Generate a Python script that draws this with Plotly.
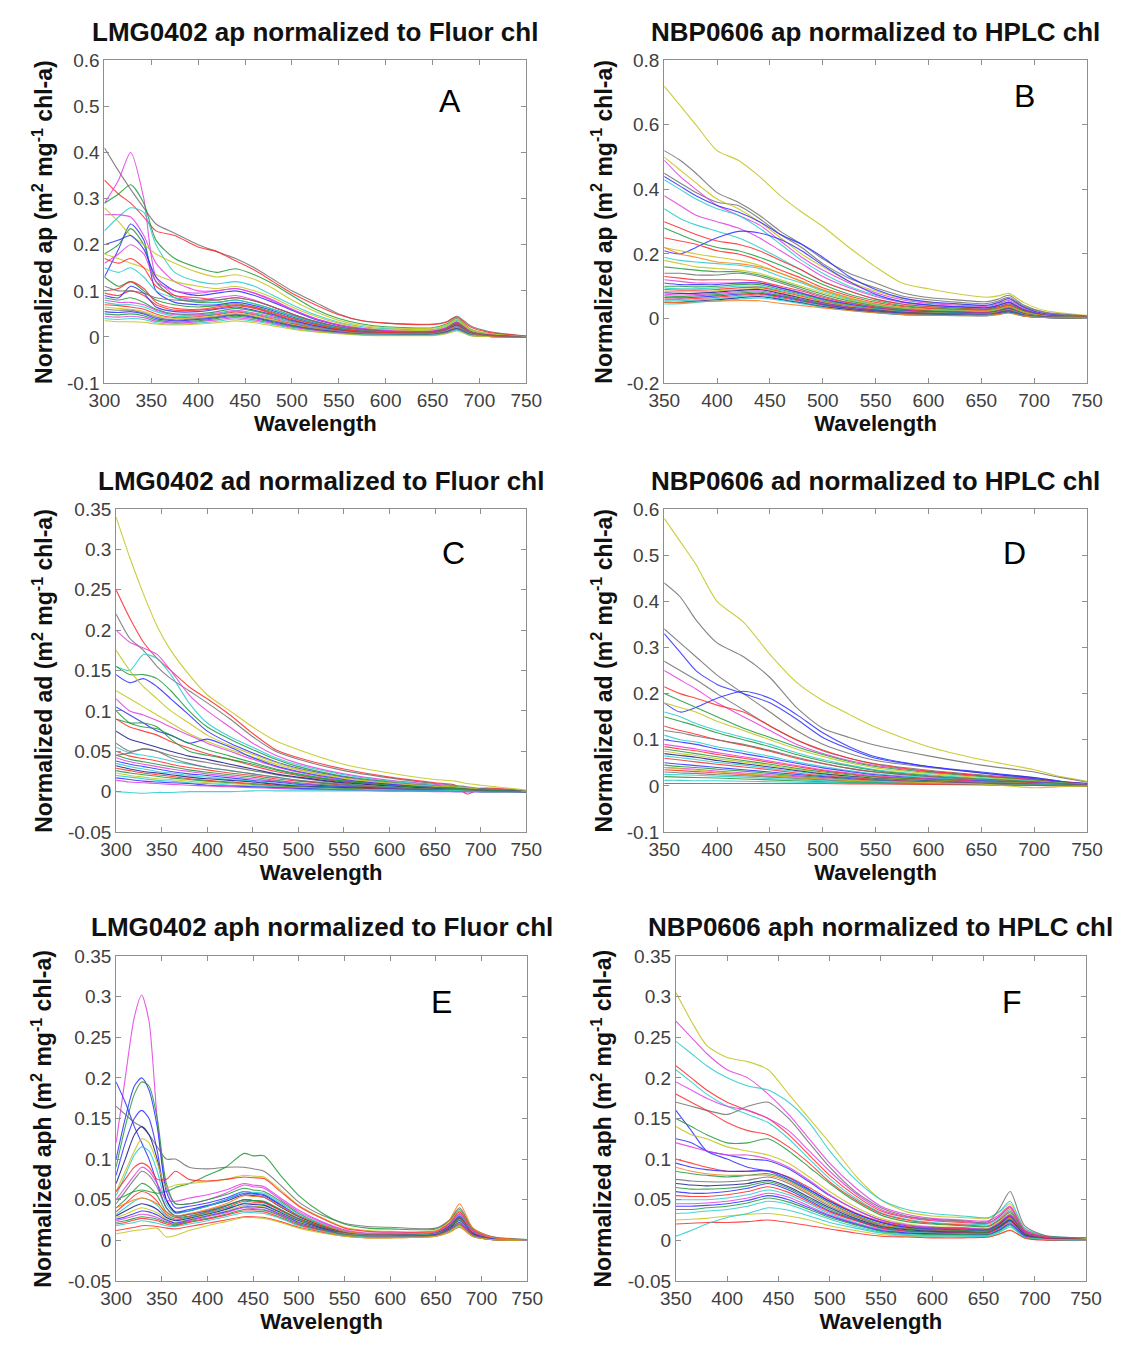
import plotly.graph_objects as go

# ---------------- data ----------------
W_A = [300, 315, 328, 342, 355, 375, 400, 420, 440, 460, 480, 500, 525, 550, 575, 600, 650, 665, 676, 690, 710, 750]
AP_LMG = [
    [0.41, 0.36, 0.32, 0.28, 0.245, 0.225, 0.20, 0.185, 0.17, 0.15, 0.125, 0.10, 0.075, 0.05, 0.035, 0.03, 0.028, 0.033, 0.045, 0.025, 0.012, 0.002],
    [0.34, 0.31, 0.29, 0.26, 0.23, 0.22, 0.195, 0.185, 0.165, 0.145, 0.12, 0.095, 0.07, 0.048, 0.035, 0.03, 0.027, 0.032, 0.043, 0.022, 0.01, 0.002],
    [0.29, 0.34, 0.40, 0.30, 0.13, 0.09, 0.08, 0.085, 0.09, 0.08, 0.065, 0.05, 0.032, 0.02, 0.014, 0.012, 0.012, 0.02, 0.033, 0.012, 0.004, 0.0],
    [0.29, 0.31, 0.33, 0.29, 0.21, 0.17, 0.15, 0.14, 0.148, 0.135, 0.115, 0.09, 0.06, 0.04, 0.028, 0.022, 0.02, 0.028, 0.04, 0.018, 0.007, 0.001],
    [0.23, 0.26, 0.28, 0.27, 0.20, 0.14, 0.12, 0.115, 0.12, 0.11, 0.09, 0.07, 0.048, 0.032, 0.022, 0.018, 0.016, 0.024, 0.036, 0.015, 0.006, 0.0],
    [0.265, 0.265, 0.26, 0.22, 0.16, 0.12, 0.10, 0.10, 0.105, 0.095, 0.08, 0.06, 0.04, 0.027, 0.018, 0.014, 0.013, 0.02, 0.032, 0.013, 0.005, 0.0],
    [0.13, 0.19, 0.245, 0.21, 0.10, 0.075, 0.07, 0.07, 0.075, 0.068, 0.057, 0.044, 0.03, 0.02, 0.013, 0.01, 0.01, 0.017, 0.028, 0.01, 0.003, 0.0],
    [0.18, 0.20, 0.235, 0.20, 0.12, 0.085, 0.075, 0.075, 0.08, 0.072, 0.06, 0.047, 0.032, 0.021, 0.014, 0.011, 0.011, 0.018, 0.03, 0.011, 0.004, 0.0],
    [0.28, 0.25, 0.22, 0.20, 0.18, 0.16, 0.14, 0.13, 0.135, 0.125, 0.105, 0.08, 0.055, 0.036, 0.025, 0.02, 0.019, 0.026, 0.038, 0.017, 0.007, 0.001],
    [0.18, 0.17, 0.16, 0.15, 0.135, 0.12, 0.11, 0.105, 0.11, 0.10, 0.085, 0.065, 0.045, 0.03, 0.02, 0.016, 0.015, 0.022, 0.034, 0.014, 0.005, 0.0],
    [0.20, 0.21, 0.22, 0.19, 0.13, 0.10, 0.09, 0.095, 0.10, 0.09, 0.075, 0.058, 0.038, 0.025, 0.017, 0.013, 0.012, 0.019, 0.031, 0.012, 0.004, 0.0],
    [0.16, 0.18, 0.20, 0.18, 0.12, 0.10, 0.095, 0.10, 0.105, 0.095, 0.078, 0.06, 0.04, 0.026, 0.018, 0.014, 0.013, 0.02, 0.032, 0.012, 0.004, 0.0],
    [0.17, 0.16, 0.17, 0.15, 0.11, 0.09, 0.085, 0.08, 0.085, 0.078, 0.065, 0.05, 0.034, 0.022, 0.015, 0.012, 0.011, 0.018, 0.03, 0.011, 0.004, 0.0],
    [0.15, 0.14, 0.15, 0.13, 0.10, 0.085, 0.078, 0.075, 0.08, 0.072, 0.06, 0.046, 0.031, 0.02, 0.014, 0.011, 0.01, 0.017, 0.028, 0.01, 0.003, 0.0],
    [0.13, 0.11, 0.12, 0.10, 0.08, 0.07, 0.065, 0.068, 0.072, 0.065, 0.054, 0.041, 0.028, 0.018, 0.012, 0.009, 0.009, 0.016, 0.027, 0.009, 0.003, 0.0],
    [0.095, 0.09, 0.10, 0.09, 0.07, 0.058, 0.058, 0.062, 0.068, 0.062, 0.05, 0.038, 0.025, 0.016, 0.011, 0.009, 0.009, 0.016, 0.026, 0.009, 0.003, 0.0],
    [0.09, 0.085, 0.11, 0.095, 0.065, 0.055, 0.055, 0.06, 0.065, 0.058, 0.048, 0.036, 0.024, 0.015, 0.01, 0.008, 0.008, 0.015, 0.025, 0.008, 0.003, 0.0],
    [0.085, 0.08, 0.085, 0.075, 0.06, 0.05, 0.05, 0.055, 0.062, 0.056, 0.046, 0.034, 0.022, 0.014, 0.01, 0.008, 0.008, 0.015, 0.024, 0.008, 0.002, 0.0],
    [0.08, 0.075, 0.075, 0.07, 0.058, 0.048, 0.048, 0.052, 0.058, 0.052, 0.043, 0.032, 0.021, 0.013, 0.009, 0.007, 0.007, 0.014, 0.023, 0.007, 0.002, 0.0],
    [0.075, 0.07, 0.07, 0.065, 0.055, 0.045, 0.046, 0.05, 0.056, 0.05, 0.041, 0.031, 0.02, 0.012, 0.008, 0.007, 0.007, 0.013, 0.022, 0.007, 0.002, 0.0],
    [0.07, 0.068, 0.065, 0.06, 0.05, 0.042, 0.044, 0.048, 0.054, 0.048, 0.039, 0.029, 0.019, 0.012, 0.008, 0.006, 0.006, 0.012, 0.021, 0.006, 0.002, 0.0],
    [0.065, 0.062, 0.06, 0.055, 0.046, 0.04, 0.042, 0.046, 0.051, 0.046, 0.037, 0.027, 0.018, 0.011, 0.007, 0.006, 0.006, 0.012, 0.02, 0.006, 0.002, 0.0],
    [0.06, 0.058, 0.058, 0.052, 0.043, 0.037, 0.04, 0.044, 0.049, 0.044, 0.035, 0.026, 0.017, 0.011, 0.007, 0.006, 0.006, 0.011, 0.019, 0.006, 0.002, 0.0],
    [0.055, 0.053, 0.055, 0.05, 0.04, 0.035, 0.038, 0.042, 0.047, 0.042, 0.033, 0.024, 0.016, 0.01, 0.006, 0.005, 0.005, 0.011, 0.018, 0.005, 0.001, 0.0],
    [0.05, 0.048, 0.05, 0.046, 0.037, 0.032, 0.035, 0.04, 0.045, 0.04, 0.031, 0.023, 0.015, 0.009, 0.006, 0.005, 0.005, 0.01, 0.017, 0.005, 0.001, 0.0],
    [0.045, 0.043, 0.045, 0.042, 0.034, 0.03, 0.033, 0.037, 0.042, 0.037, 0.029, 0.021, 0.014, 0.009, 0.005, 0.004, 0.004, 0.009, 0.016, 0.004, 0.001, 0.0],
    [0.04, 0.038, 0.04, 0.038, 0.031, 0.028, 0.03, 0.034, 0.039, 0.034, 0.027, 0.019, 0.012, 0.008, 0.005, 0.004, 0.004, 0.008, 0.015, 0.004, 0.001, 0.0],
    [0.035, 0.033, 0.033, 0.032, 0.028, 0.026, 0.028, 0.031, 0.035, 0.031, 0.024, 0.017, 0.011, 0.007, 0.004, 0.003, 0.003, 0.007, 0.013, 0.003, 0.001, 0.0],
    [0.10, 0.105, 0.12, 0.105, 0.075, 0.062, 0.06, 0.065, 0.07, 0.064, 0.052, 0.04, 0.027, 0.017, 0.012, 0.01, 0.01, 0.017, 0.028, 0.01, 0.003, 0.0],
    [0.11, 0.10, 0.10, 0.095, 0.085, 0.08, 0.078, 0.08, 0.085, 0.078, 0.065, 0.05, 0.034, 0.022, 0.015, 0.012, 0.011, 0.018, 0.03, 0.011, 0.004, 0.0],
]

W_B = [350, 365, 380, 400, 420, 440, 460, 480, 500, 525, 550, 575, 600, 630, 655, 666, 676, 690, 710, 750]
AP_NBP = [
    [0.72, 0.66, 0.60, 0.52, 0.49, 0.44, 0.38, 0.33, 0.285, 0.22, 0.16, 0.11, 0.092, 0.075, 0.066, 0.07, 0.078, 0.05, 0.025, 0.01],
    [0.52, 0.49, 0.45, 0.39, 0.36, 0.32, 0.27, 0.23, 0.185, 0.14, 0.11, 0.08, 0.065, 0.057, 0.052, 0.06, 0.072, 0.042, 0.02, 0.008],
    [0.45, 0.42, 0.39, 0.36, 0.35, 0.31, 0.26, 0.22, 0.17, 0.125, 0.095, 0.07, 0.058, 0.05, 0.046, 0.054, 0.066, 0.038, 0.018, 0.007],
    [0.50, 0.46, 0.42, 0.37, 0.34, 0.30, 0.25, 0.20, 0.16, 0.115, 0.085, 0.062, 0.05, 0.044, 0.04, 0.048, 0.06, 0.034, 0.015, 0.006],
    [0.49, 0.44, 0.40, 0.35, 0.32, 0.29, 0.24, 0.19, 0.15, 0.11, 0.08, 0.058, 0.047, 0.041, 0.037, 0.045, 0.056, 0.031, 0.014, 0.006],
    [0.44, 0.41, 0.38, 0.35, 0.33, 0.30, 0.26, 0.23, 0.19, 0.13, 0.09, 0.064, 0.052, 0.045, 0.041, 0.05, 0.062, 0.035, 0.015, 0.006],
    [0.43, 0.40, 0.37, 0.34, 0.32, 0.28, 0.23, 0.18, 0.14, 0.10, 0.072, 0.052, 0.043, 0.037, 0.034, 0.042, 0.052, 0.029, 0.012, 0.005],
    [0.38, 0.35, 0.32, 0.30, 0.28, 0.25, 0.21, 0.17, 0.13, 0.095, 0.068, 0.05, 0.041, 0.036, 0.033, 0.04, 0.05, 0.028, 0.012, 0.005],
    [0.34, 0.31, 0.29, 0.27, 0.25, 0.22, 0.185, 0.15, 0.115, 0.085, 0.06, 0.045, 0.037, 0.032, 0.03, 0.037, 0.046, 0.025, 0.011, 0.005],
    [0.21, 0.20, 0.22, 0.25, 0.27, 0.265, 0.245, 0.21, 0.165, 0.115, 0.075, 0.052, 0.042, 0.036, 0.033, 0.04, 0.05, 0.027, 0.011, 0.005],
    [0.30, 0.28, 0.26, 0.24, 0.23, 0.21, 0.18, 0.15, 0.115, 0.085, 0.06, 0.045, 0.037, 0.032, 0.029, 0.036, 0.045, 0.025, 0.01, 0.004],
    [0.28, 0.26, 0.24, 0.22, 0.21, 0.19, 0.165, 0.135, 0.105, 0.075, 0.055, 0.04, 0.033, 0.029, 0.027, 0.033, 0.042, 0.023, 0.009, 0.004],
    [0.25, 0.24, 0.23, 0.21, 0.20, 0.18, 0.15, 0.125, 0.095, 0.07, 0.05, 0.037, 0.031, 0.027, 0.025, 0.031, 0.04, 0.021, 0.009, 0.004],
    [0.22, 0.21, 0.20, 0.19, 0.18, 0.165, 0.14, 0.115, 0.09, 0.065, 0.046, 0.034, 0.028, 0.025, 0.023, 0.029, 0.037, 0.02, 0.008, 0.004],
    [0.22, 0.20, 0.19, 0.175, 0.17, 0.16, 0.14, 0.115, 0.088, 0.063, 0.045, 0.033, 0.027, 0.024, 0.022, 0.028, 0.036, 0.019, 0.008, 0.003],
    [0.19, 0.18, 0.175, 0.17, 0.165, 0.155, 0.13, 0.11, 0.085, 0.06, 0.043, 0.032, 0.026, 0.023, 0.021, 0.027, 0.035, 0.018, 0.007, 0.003],
    [0.18, 0.17, 0.16, 0.155, 0.15, 0.14, 0.12, 0.10, 0.08, 0.057, 0.041, 0.031, 0.025, 0.022, 0.02, 0.026, 0.034, 0.017, 0.007, 0.003],
    [0.16, 0.155, 0.15, 0.145, 0.145, 0.135, 0.115, 0.095, 0.075, 0.054, 0.039, 0.029, 0.024, 0.021, 0.019, 0.025, 0.033, 0.016, 0.006, 0.003],
    [0.14, 0.14, 0.135, 0.135, 0.14, 0.13, 0.11, 0.09, 0.07, 0.05, 0.036, 0.027, 0.022, 0.02, 0.018, 0.024, 0.032, 0.015, 0.006, 0.003],
    [0.13, 0.125, 0.12, 0.12, 0.12, 0.115, 0.10, 0.085, 0.066, 0.048, 0.035, 0.026, 0.022, 0.019, 0.017, 0.023, 0.031, 0.015, 0.006, 0.003],
    [0.12, 0.115, 0.11, 0.11, 0.11, 0.11, 0.095, 0.08, 0.062, 0.045, 0.033, 0.025, 0.021, 0.018, 0.017, 0.022, 0.03, 0.014, 0.005, 0.003],
    [0.11, 0.105, 0.105, 0.105, 0.11, 0.11, 0.095, 0.078, 0.06, 0.044, 0.032, 0.024, 0.02, 0.018, 0.016, 0.022, 0.03, 0.014, 0.005, 0.003],
    [0.10, 0.10, 0.098, 0.10, 0.105, 0.105, 0.09, 0.075, 0.058, 0.042, 0.031, 0.023, 0.019, 0.017, 0.015, 0.021, 0.029, 0.013, 0.005, 0.003],
    [0.095, 0.092, 0.092, 0.095, 0.10, 0.10, 0.087, 0.072, 0.056, 0.04, 0.03, 0.022, 0.018, 0.016, 0.015, 0.02, 0.028, 0.013, 0.005, 0.003],
    [0.09, 0.088, 0.088, 0.09, 0.095, 0.097, 0.083, 0.069, 0.053, 0.038, 0.028, 0.021, 0.017, 0.015, 0.014, 0.019, 0.027, 0.012, 0.005, 0.002],
    [0.085, 0.083, 0.083, 0.086, 0.09, 0.093, 0.08, 0.066, 0.051, 0.037, 0.027, 0.02, 0.017, 0.015, 0.014, 0.019, 0.026, 0.012, 0.004, 0.002],
    [0.08, 0.078, 0.078, 0.082, 0.087, 0.09, 0.077, 0.063, 0.049, 0.035, 0.026, 0.019, 0.016, 0.014, 0.013, 0.018, 0.025, 0.011, 0.004, 0.002],
    [0.075, 0.073, 0.074, 0.078, 0.083, 0.086, 0.074, 0.06, 0.047, 0.034, 0.025, 0.018, 0.015, 0.013, 0.012, 0.017, 0.024, 0.011, 0.004, 0.002],
    [0.07, 0.068, 0.07, 0.074, 0.079, 0.082, 0.071, 0.058, 0.045, 0.032, 0.024, 0.017, 0.014, 0.013, 0.012, 0.016, 0.023, 0.01, 0.004, 0.002],
    [0.065, 0.064, 0.066, 0.07, 0.075, 0.078, 0.068, 0.055, 0.043, 0.031, 0.023, 0.016, 0.013, 0.012, 0.011, 0.016, 0.022, 0.01, 0.004, 0.002],
    [0.06, 0.06, 0.062, 0.066, 0.072, 0.075, 0.065, 0.053, 0.041, 0.029, 0.021, 0.015, 0.013, 0.011, 0.01, 0.015, 0.021, 0.009, 0.003, 0.002],
    [0.055, 0.055, 0.058, 0.062, 0.068, 0.072, 0.062, 0.05, 0.039, 0.028, 0.02, 0.014, 0.012, 0.011, 0.01, 0.014, 0.02, 0.009, 0.003, 0.002],
    [0.05, 0.05, 0.054, 0.058, 0.064, 0.068, 0.059, 0.048, 0.037, 0.027, 0.019, 0.013, 0.011, 0.01, 0.009, 0.013, 0.019, 0.008, 0.003, 0.002],
    [0.045, 0.046, 0.05, 0.055, 0.06, 0.064, 0.056, 0.046, 0.035, 0.025, 0.018, 0.012, 0.01, 0.009, 0.009, 0.013, 0.018, 0.008, 0.003, 0.002],
    [0.05, 0.05, 0.052, 0.054, 0.056, 0.055, 0.047, 0.04, 0.033, 0.025, 0.018, 0.013, 0.01, 0.009, 0.009, 0.012, 0.017, 0.007, 0.003, 0.002],
]

W_C = [300, 315, 330, 345, 360, 380, 400, 425, 450, 475, 500, 550, 600, 650, 672, 685, 700, 750]
AD_LMG = [
    [0.34, 0.29, 0.245, 0.205, 0.175, 0.145, 0.12, 0.10, 0.08, 0.063, 0.052, 0.034, 0.023, 0.015, 0.013, 0.01, 0.008, 0.002],
    [0.25, 0.215, 0.185, 0.165, 0.15, 0.13, 0.115, 0.095, 0.072, 0.052, 0.042, 0.028, 0.018, 0.011, 0.008, -0.003, 0.004, 0.001],
    [0.22, 0.19, 0.175, 0.155, 0.14, 0.125, 0.11, 0.09, 0.068, 0.05, 0.04, 0.026, 0.017, 0.01, 0.008, 0.006, 0.004, 0.001],
    [0.20, 0.185, 0.178, 0.17, 0.15, 0.12, 0.10, 0.08, 0.06, 0.045, 0.035, 0.022, 0.014, 0.009, 0.007, 0.005, 0.003, 0.001],
    [0.155, 0.15, 0.17, 0.165, 0.145, 0.11, 0.085, 0.068, 0.055, 0.042, 0.033, 0.021, 0.013, 0.008, 0.006, 0.005, 0.003, 0.001],
    [0.155, 0.145, 0.145, 0.14, 0.125, 0.10, 0.08, 0.065, 0.052, 0.04, 0.031, 0.019, 0.012, 0.007, 0.006, 0.005, 0.003, 0.001],
    [0.145, 0.135, 0.14, 0.13, 0.115, 0.095, 0.075, 0.06, 0.048, 0.037, 0.029, 0.018, 0.011, 0.007, 0.005, 0.004, 0.003, 0.001],
    [0.175, 0.15, 0.13, 0.115, 0.10, 0.085, 0.07, 0.057, 0.046, 0.036, 0.028, 0.017, 0.011, 0.007, 0.006, 0.005, 0.003, 0.001],
    [0.125, 0.115, 0.105, 0.095, 0.085, 0.072, 0.062, 0.052, 0.043, 0.034, 0.027, 0.016, 0.01, 0.006, 0.005, 0.004, 0.002, 0.001],
    [0.115, 0.10, 0.095, 0.088, 0.08, 0.07, 0.06, 0.05, 0.04, 0.031, 0.024, 0.014, 0.009, 0.005, 0.004, 0.003, 0.002, 0.0],
    [0.105, 0.095, 0.085, 0.075, 0.07, 0.06, 0.065, 0.055, 0.042, 0.032, 0.025, 0.015, 0.009, 0.005, 0.004, 0.003, 0.002, 0.0],
    [0.10, 0.085, 0.08, 0.078, 0.07, 0.06, 0.052, 0.044, 0.036, 0.028, 0.022, 0.013, 0.008, 0.005, 0.004, 0.003, 0.002, 0.0],
    [0.09, 0.08, 0.075, 0.07, 0.062, 0.054, 0.047, 0.04, 0.032, 0.025, 0.02, 0.012, 0.007, 0.004, 0.003, 0.003, 0.002, 0.0],
    [0.06, 0.05, 0.053, 0.05, 0.045, 0.04, 0.036, 0.031, 0.026, 0.021, 0.017, 0.01, 0.006, 0.004, 0.003, 0.002, 0.001, 0.0],
    [0.075, 0.065, 0.06, 0.055, 0.05, 0.044, 0.04, 0.034, 0.028, 0.022, 0.018, 0.011, 0.007, 0.004, 0.003, 0.002, 0.001, 0.0],
    [0.055, 0.048, 0.045, 0.042, 0.038, 0.034, 0.03, 0.026, 0.022, 0.018, 0.014, 0.009, 0.006, 0.003, 0.003, 0.002, 0.001, 0.0],
    [0.05, 0.044, 0.041, 0.038, 0.034, 0.03, 0.027, 0.023, 0.02, 0.016, 0.013, 0.008, 0.005, 0.003, 0.002, 0.002, 0.001, 0.0],
    [0.045, 0.04, 0.037, 0.034, 0.031, 0.027, 0.024, 0.021, 0.018, 0.014, 0.011, 0.007, 0.004, 0.003, 0.002, 0.002, 0.001, 0.0],
    [0.042, 0.037, 0.034, 0.031, 0.028, 0.025, 0.022, 0.019, 0.016, 0.013, 0.01, 0.006, 0.004, 0.002, 0.002, 0.001, 0.001, 0.0],
    [0.038, 0.034, 0.031, 0.028, 0.025, 0.022, 0.02, 0.017, 0.014, 0.012, 0.009, 0.006, 0.004, 0.002, 0.002, 0.001, 0.001, 0.0],
    [0.035, 0.031, 0.028, 0.025, 0.023, 0.02, 0.018, 0.015, 0.013, 0.01, 0.008, 0.005, 0.003, 0.002, 0.002, 0.001, 0.001, 0.0],
    [0.032, 0.028, 0.025, 0.023, 0.021, 0.018, 0.016, 0.014, 0.012, 0.009, 0.007, 0.005, 0.003, 0.002, 0.001, 0.001, 0.001, 0.0],
    [0.029, 0.026, 0.023, 0.021, 0.019, 0.016, 0.014, 0.012, 0.01, 0.008, 0.006, 0.004, 0.003, 0.002, 0.001, 0.001, 0.0, 0.0],
    [0.026, 0.023, 0.021, 0.019, 0.017, 0.015, 0.013, 0.011, 0.009, 0.007, 0.006, 0.004, 0.002, 0.001, 0.001, 0.001, 0.0, 0.0],
    [0.023, 0.02, 0.018, 0.016, 0.015, 0.013, 0.011, 0.01, 0.008, 0.006, 0.005, 0.003, 0.002, 0.001, 0.001, 0.001, 0.0, 0.0],
    [0.02, 0.018, 0.016, 0.014, 0.013, 0.011, 0.01, 0.008, 0.007, 0.006, 0.004, 0.003, 0.002, 0.001, 0.001, 0.0, 0.0, 0.0],
    [0.017, 0.015, 0.013, 0.012, 0.011, 0.01, 0.008, 0.007, 0.006, 0.005, 0.004, 0.002, 0.001, 0.001, 0.0, 0.0, 0.0, 0.0],
    [0.014, 0.012, 0.011, 0.01, 0.009, 0.008, 0.007, 0.006, 0.005, 0.004, 0.003, 0.002, 0.001, 0.0, 0.0, 0.0, 0.0, 0.0],
    [0.0, -0.001, -0.002, -0.001, -0.001, 0.0, 0.0, 0.0, 0.001, 0.001, 0.001, 0.001, 0.001, 0.001, 0.001, 0.001, 0.0, 0.0],
    [0.09, 0.085, 0.085, 0.08, 0.065, 0.05, 0.045, 0.04, 0.034, 0.027, 0.021, 0.013, 0.008, 0.005, 0.004, 0.003, 0.002, 0.0],
    [0.045, 0.048, 0.053, 0.05, 0.042, 0.035, 0.03, 0.026, 0.022, 0.018, 0.014, 0.009, 0.005, 0.003, 0.003, 0.002, 0.001, 0.0],
]

W_D = [350, 365, 380, 400, 425, 450, 475, 500, 525, 550, 600, 650, 700, 725, 750]
AD_NBP = [
    [0.58, 0.53, 0.48, 0.40, 0.355, 0.285, 0.225, 0.185, 0.155, 0.127, 0.085, 0.057, 0.035, 0.02, 0.01],
    [0.44, 0.41, 0.36, 0.31, 0.28, 0.235, 0.17, 0.125, 0.105, 0.088, 0.065, 0.045, 0.03, 0.018, 0.008],
    [0.34, 0.31, 0.28, 0.24, 0.20, 0.16, 0.12, 0.09, 0.07, 0.055, 0.04, 0.028, 0.018, 0.01, 0.005],
    [0.33, 0.29, 0.25, 0.22, 0.20, 0.18, 0.145, 0.105, 0.08, 0.06, 0.042, 0.03, 0.018, 0.01, 0.005],
    [0.27, 0.25, 0.23, 0.20, 0.165, 0.13, 0.10, 0.076, 0.06, 0.048, 0.034, 0.024, 0.015, 0.009, 0.004],
    [0.25, 0.23, 0.21, 0.18, 0.15, 0.12, 0.09, 0.07, 0.055, 0.044, 0.031, 0.022, 0.014, 0.008, 0.004],
    [0.18, 0.16, 0.17, 0.19, 0.205, 0.19, 0.155, 0.115, 0.085, 0.063, 0.042, 0.028, 0.016, 0.009, 0.004],
    [0.215, 0.20, 0.19, 0.175, 0.16, 0.13, 0.10, 0.078, 0.06, 0.047, 0.032, 0.022, 0.013, 0.008, 0.004],
    [0.20, 0.185, 0.17, 0.15, 0.125, 0.105, 0.085, 0.068, 0.053, 0.042, 0.029, 0.02, 0.012, 0.007, 0.003],
    [0.18, 0.17, 0.16, 0.14, 0.12, 0.10, 0.08, 0.064, 0.05, 0.039, 0.027, 0.018, 0.011, 0.006, 0.003],
    [0.16, 0.15, 0.135, 0.12, 0.105, 0.09, 0.072, 0.057, 0.045, 0.035, 0.024, 0.016, 0.01, 0.006, 0.003],
    [0.15, 0.14, 0.13, 0.115, 0.10, 0.085, 0.068, 0.054, 0.043, 0.033, 0.022, 0.015, 0.009, 0.005, 0.003],
    [0.13, 0.12, 0.112, 0.10, 0.088, 0.075, 0.06, 0.048, 0.038, 0.03, 0.02, 0.013, 0.008, 0.005, 0.002],
    [0.12, 0.115, 0.108, 0.10, 0.09, 0.077, 0.062, 0.049, 0.038, 0.03, 0.02, 0.013, 0.008, 0.005, 0.002],
    [0.11, 0.10, 0.095, 0.085, 0.075, 0.064, 0.052, 0.042, 0.033, 0.026, 0.018, 0.012, 0.007, 0.004, 0.002],
    [0.10, 0.095, 0.09, 0.08, 0.07, 0.06, 0.049, 0.039, 0.031, 0.024, 0.016, 0.011, 0.007, 0.004, 0.002],
    [0.09, 0.085, 0.08, 0.072, 0.063, 0.054, 0.044, 0.035, 0.028, 0.022, 0.015, 0.01, 0.006, 0.004, 0.002],
    [0.085, 0.08, 0.076, 0.068, 0.06, 0.051, 0.042, 0.033, 0.026, 0.02, 0.014, 0.009, 0.006, 0.003, 0.002],
    [0.08, 0.075, 0.07, 0.063, 0.055, 0.047, 0.038, 0.03, 0.024, 0.019, 0.013, 0.008, 0.005, 0.003, 0.001],
    [0.075, 0.07, 0.066, 0.059, 0.052, 0.044, 0.036, 0.028, 0.022, 0.017, 0.012, 0.008, 0.005, 0.003, 0.001],
    [0.07, 0.066, 0.062, 0.055, 0.048, 0.041, 0.033, 0.026, 0.021, 0.016, 0.011, 0.007, 0.004, 0.002, 0.001],
    [0.065, 0.061, 0.057, 0.051, 0.045, 0.038, 0.031, 0.024, 0.019, 0.015, 0.01, 0.007, 0.004, 0.002, 0.001],
    [0.06, 0.056, 0.052, 0.047, 0.041, 0.035, 0.028, 0.022, 0.018, 0.014, 0.009, 0.006, 0.004, 0.002, 0.001],
    [0.05, 0.047, 0.044, 0.04, 0.035, 0.03, 0.025, 0.02, 0.016, 0.012, 0.008, 0.005, 0.003, 0.002, 0.001],
    [0.045, 0.042, 0.04, 0.036, 0.032, 0.027, 0.022, 0.018, 0.014, 0.011, 0.007, 0.005, 0.003, 0.002, 0.001],
    [0.04, 0.038, 0.036, 0.032, 0.028, 0.024, 0.02, 0.016, 0.013, 0.01, 0.007, 0.004, 0.003, 0.001, 0.001],
    [0.035, 0.033, 0.031, 0.028, 0.025, 0.021, 0.018, 0.014, 0.011, 0.009, 0.006, 0.004, 0.002, 0.001, 0.0],
    [0.03, 0.028, 0.027, 0.024, 0.022, 0.019, 0.016, 0.013, 0.01, 0.008, 0.005, 0.003, 0.002, 0.001, 0.0],
    [0.025, 0.024, 0.023, 0.021, 0.019, 0.016, 0.014, 0.011, 0.009, 0.007, 0.005, 0.003, 0.002, 0.001, 0.0],
    [0.02, 0.019, 0.018, 0.017, 0.015, 0.013, 0.011, 0.009, 0.007, 0.006, 0.004, 0.003, 0.002, 0.001, 0.0],
    [0.012, 0.012, 0.011, 0.011, 0.01, 0.009, 0.008, 0.007, 0.006, 0.005, 0.004, 0.003, 0.002, 0.001, 0.0],
    [0.005, 0.005, 0.005, 0.005, 0.005, 0.005, 0.005, 0.005, 0.004, 0.004, 0.003, 0.002, 0.001, 0.0, 0.0],
    [0.04, 0.037, 0.034, 0.03, 0.026, 0.022, 0.018, 0.015, 0.012, 0.01, 0.007, 0.004, -0.004, -0.002, 0.0],
]

W_E = [300, 310, 320, 328, 336, 345, 355, 365, 380, 400, 420, 440, 450, 462, 480, 500, 525, 550, 575, 600, 650, 665, 676, 690, 710, 750]
APH_LMG = [
    [0.12, 0.20, 0.275, 0.302, 0.27, 0.15, 0.065, 0.045, 0.045, 0.05, 0.058, 0.068, 0.066, 0.064, 0.05, 0.035, 0.022, 0.012, 0.008, 0.008, 0.01, 0.02, 0.032, 0.012, 0.003, 0.0],
    [0.10, 0.15, 0.19, 0.20, 0.185, 0.14, 0.06, 0.04, 0.042, 0.046, 0.052, 0.06, 0.058, 0.056, 0.044, 0.03, 0.019, 0.01, 0.007, 0.007, 0.009, 0.018, 0.03, 0.01, 0.002, 0.0],
    [0.09, 0.14, 0.18, 0.195, 0.19, 0.15, 0.07, 0.045, 0.045, 0.05, 0.056, 0.064, 0.062, 0.06, 0.048, 0.033, 0.02, 0.011, 0.008, 0.008, 0.01, 0.019, 0.031, 0.011, 0.003, 0.0],
    [0.195, 0.17, 0.14, 0.12, 0.10, 0.07, 0.04, 0.03, 0.032, 0.036, 0.042, 0.05, 0.049, 0.047, 0.037, 0.026, 0.016, 0.009, 0.006, 0.006, 0.008, 0.016, 0.027, 0.009, 0.002, 0.0],
    [0.165, 0.155, 0.145, 0.14, 0.13, 0.115, 0.10, 0.10, 0.09, 0.088, 0.09, 0.09, 0.088, 0.085, 0.068, 0.047, 0.031, 0.021, 0.017, 0.016, 0.015, 0.025, 0.04, 0.015, 0.005, 0.001],
    [0.05, 0.055, 0.06, 0.062, 0.06, 0.058, 0.06, 0.065, 0.07, 0.08, 0.09, 0.107, 0.104, 0.104, 0.08, 0.055, 0.034, 0.02, 0.015, 0.014, 0.014, 0.024, 0.038, 0.014, 0.004, 0.0],
    [0.08, 0.12, 0.15, 0.16, 0.15, 0.11, 0.05, 0.035, 0.038, 0.043, 0.05, 0.058, 0.057, 0.055, 0.043, 0.03, 0.019, 0.01, 0.007, 0.007, 0.009, 0.018, 0.029, 0.01, 0.002, 0.0],
    [0.07, 0.10, 0.13, 0.14, 0.13, 0.10, 0.05, 0.034, 0.036, 0.042, 0.048, 0.056, 0.055, 0.053, 0.041, 0.029, 0.018, 0.01, 0.007, 0.007, 0.009, 0.017, 0.028, 0.01, 0.002, 0.0],
    [0.06, 0.085, 0.11, 0.125, 0.12, 0.095, 0.065, 0.068, 0.07, 0.072, 0.075, 0.08, 0.079, 0.078, 0.062, 0.043, 0.028, 0.016, 0.012, 0.011, 0.012, 0.022, 0.036, 0.013, 0.004, 0.0],
    [0.055, 0.08, 0.105, 0.115, 0.11, 0.085, 0.045, 0.033, 0.036, 0.042, 0.05, 0.06, 0.059, 0.058, 0.046, 0.032, 0.02, 0.011, 0.008, 0.008, 0.01, 0.019, 0.031, 0.011, 0.003, 0.0],
    [0.06, 0.075, 0.09, 0.095, 0.09, 0.075, 0.075, 0.085, 0.075, 0.073, 0.075, 0.078, 0.077, 0.076, 0.06, 0.042, 0.027, 0.015, 0.011, 0.01, 0.011, 0.021, 0.035, 0.013, 0.004, 0.0],
    [0.05, 0.065, 0.08, 0.09, 0.085, 0.07, 0.05, 0.048, 0.052, 0.056, 0.062, 0.07, 0.068, 0.066, 0.052, 0.037, 0.023, 0.013, 0.009, 0.009, 0.01, 0.02, 0.033, 0.012, 0.003, 0.0],
    [0.045, 0.06, 0.075, 0.085, 0.08, 0.065, 0.04, 0.03, 0.032, 0.037, 0.043, 0.05, 0.049, 0.047, 0.037, 0.026, 0.017, 0.009, 0.006, 0.006, 0.008, 0.016, 0.026, 0.009, 0.002, 0.0],
    [0.04, 0.05, 0.062, 0.07, 0.066, 0.055, 0.035, 0.028, 0.03, 0.035, 0.042, 0.05, 0.049, 0.048, 0.038, 0.027, 0.017, 0.009, 0.006, 0.006, 0.008, 0.016, 0.027, 0.009, 0.002, 0.0],
    [0.035, 0.045, 0.055, 0.06, 0.057, 0.048, 0.032, 0.026, 0.029, 0.034, 0.04, 0.048, 0.047, 0.046, 0.037, 0.026, 0.016, 0.009, 0.006, 0.006, 0.008, 0.017, 0.028, 0.009, 0.002, 0.0],
    [0.032, 0.04, 0.048, 0.052, 0.05, 0.043, 0.03, 0.025, 0.028, 0.033, 0.039, 0.046, 0.045, 0.044, 0.035, 0.025, 0.015, 0.008, 0.006, 0.006, 0.008, 0.015, 0.025, 0.008, 0.002, 0.0],
    [0.03, 0.036, 0.042, 0.045, 0.043, 0.038, 0.028, 0.024, 0.027, 0.032, 0.038, 0.045, 0.044, 0.043, 0.034, 0.024, 0.015, 0.008, 0.005, 0.005, 0.007, 0.015, 0.024, 0.008, 0.002, 0.0],
    [0.028, 0.032, 0.037, 0.04, 0.038, 0.034, 0.026, 0.022, 0.026, 0.031, 0.036, 0.043, 0.042, 0.041, 0.033, 0.023, 0.014, 0.008, 0.005, 0.005, 0.007, 0.014, 0.023, 0.007, 0.002, 0.0],
    [0.026, 0.029, 0.033, 0.036, 0.035, 0.031, 0.025, 0.021, 0.025, 0.03, 0.035, 0.041, 0.041, 0.04, 0.032, 0.022, 0.014, 0.007, 0.005, 0.005, 0.007, 0.014, 0.022, 0.007, 0.002, 0.0],
    [0.024, 0.027, 0.03, 0.032, 0.031, 0.028, 0.023, 0.02, 0.024, 0.029, 0.034, 0.04, 0.039, 0.038, 0.031, 0.021, 0.013, 0.007, 0.005, 0.005, 0.006, 0.013, 0.021, 0.007, 0.001, 0.0],
    [0.022, 0.024, 0.027, 0.029, 0.028, 0.026, 0.022, 0.019, 0.023, 0.027, 0.032, 0.038, 0.038, 0.037, 0.03, 0.02, 0.013, 0.007, 0.004, 0.004, 0.006, 0.013, 0.02, 0.006, 0.001, 0.0],
    [0.02, 0.022, 0.025, 0.027, 0.026, 0.024, 0.02, 0.018, 0.022, 0.026, 0.031, 0.036, 0.036, 0.035, 0.028, 0.019, 0.012, 0.006, 0.004, 0.004, 0.006, 0.012, 0.019, 0.006, 0.001, 0.0],
    [0.018, 0.02, 0.022, 0.024, 0.023, 0.021, 0.018, 0.017, 0.02, 0.024, 0.029, 0.034, 0.034, 0.033, 0.027, 0.018, 0.011, 0.006, 0.004, 0.004, 0.005, 0.011, 0.018, 0.005, 0.001, 0.0],
    [0.012, 0.014, 0.016, 0.018, 0.018, 0.017, 0.015, 0.014, 0.017, 0.021, 0.025, 0.029, 0.029, 0.028, 0.023, 0.016, 0.01, 0.005, 0.003, 0.003, 0.005, 0.01, 0.016, 0.005, 0.001, 0.0],
    [0.008, 0.01, 0.012, 0.013, 0.014, 0.015, 0.004, 0.006, 0.012, 0.018, 0.023, 0.028, 0.028, 0.027, 0.022, 0.015, 0.009, 0.005, 0.003, 0.003, 0.005, 0.01, 0.017, 0.005, 0.001, 0.0],
    [0.04, 0.045, 0.05, 0.052, 0.05, 0.045, 0.035, 0.03, 0.033, 0.038, 0.045, 0.055, 0.054, 0.053, 0.042, 0.03, 0.019, 0.011, 0.008, 0.008, 0.011, 0.025, 0.045, 0.016, 0.004, 0.0],
]

W_F = [350, 365, 380, 400, 420, 440, 460, 480, 500, 525, 550, 575, 600, 630, 655, 666, 676, 690, 710, 750]
APH_NBP = [
    [0.305, 0.27, 0.24, 0.225, 0.22, 0.21, 0.18, 0.15, 0.12, 0.08, 0.05, 0.035, 0.03, 0.028, 0.027, 0.035, 0.045, 0.015, 0.005, 0.003],
    [0.27, 0.25, 0.23, 0.21, 0.20, 0.18, 0.155, 0.125, 0.095, 0.065, 0.042, 0.032, 0.027, 0.025, 0.024, 0.032, 0.042, 0.013, 0.005, 0.002],
    [0.245, 0.23, 0.215, 0.20, 0.19, 0.185, 0.17, 0.145, 0.11, 0.075, 0.05, 0.038, 0.033, 0.03, 0.028, 0.036, 0.048, 0.015, 0.006, 0.003],
    [0.215, 0.20, 0.185, 0.17, 0.16, 0.15, 0.13, 0.105, 0.08, 0.055, 0.036, 0.028, 0.024, 0.022, 0.021, 0.03, 0.04, 0.012, 0.004, 0.002],
    [0.21, 0.195, 0.18, 0.165, 0.155, 0.145, 0.125, 0.10, 0.076, 0.052, 0.034, 0.026, 0.022, 0.02, 0.02, 0.028, 0.038, 0.011, 0.004, 0.002],
    [0.195, 0.185, 0.175, 0.165, 0.16, 0.15, 0.135, 0.11, 0.085, 0.058, 0.038, 0.029, 0.025, 0.023, 0.022, 0.03, 0.041, 0.012, 0.004, 0.002],
    [0.17, 0.165, 0.16, 0.155, 0.165, 0.17, 0.15, 0.12, 0.09, 0.06, 0.04, 0.03, 0.026, 0.024, 0.023, 0.04, 0.06, 0.018, 0.006, 0.003],
    [0.18, 0.17, 0.16, 0.145, 0.135, 0.13, 0.115, 0.095, 0.072, 0.05, 0.033, 0.025, 0.021, 0.019, 0.018, 0.026, 0.036, 0.011, 0.004, 0.002],
    [0.16, 0.135, 0.11, 0.10, 0.09, 0.085, 0.075, 0.062, 0.048, 0.033, 0.022, 0.016, 0.013, 0.012, 0.012, 0.02, 0.03, 0.008, 0.002, 0.001],
    [0.15, 0.14, 0.13, 0.12, 0.12, 0.125, 0.11, 0.09, 0.07, 0.048, 0.031, 0.023, 0.02, 0.018, 0.017, 0.025, 0.034, 0.01, 0.003, 0.002],
    [0.14, 0.13, 0.125, 0.115, 0.11, 0.105, 0.095, 0.078, 0.06, 0.041, 0.027, 0.02, 0.017, 0.016, 0.015, 0.023, 0.032, 0.009, 0.003, 0.002],
    [0.125, 0.12, 0.11, 0.105, 0.10, 0.098, 0.088, 0.072, 0.055, 0.038, 0.025, 0.018, 0.016, 0.015, 0.014, 0.022, 0.031, 0.009, 0.003, 0.001],
    [0.12, 0.115, 0.11, 0.105, 0.105, 0.10, 0.09, 0.074, 0.056, 0.038, 0.025, 0.019, 0.016, 0.015, 0.014, 0.022, 0.031, 0.009, 0.003, 0.001],
    [0.10, 0.095, 0.09, 0.085, 0.085, 0.085, 0.078, 0.065, 0.05, 0.034, 0.023, 0.017, 0.015, 0.014, 0.013, 0.021, 0.03, 0.008, 0.003, 0.001],
    [0.095, 0.09, 0.087, 0.085, 0.085, 0.086, 0.077, 0.063, 0.048, 0.033, 0.022, 0.016, 0.014, 0.013, 0.013, 0.02, 0.029, 0.008, 0.002, 0.001],
    [0.085, 0.082, 0.08, 0.078, 0.08, 0.082, 0.074, 0.06, 0.046, 0.031, 0.02, 0.015, 0.013, 0.012, 0.012, 0.019, 0.028, 0.008, 0.002, 0.001],
    [0.09, 0.085, 0.082, 0.08, 0.08, 0.08, 0.072, 0.058, 0.044, 0.03, 0.019, 0.014, 0.012, 0.011, 0.011, 0.018, 0.027, 0.007, 0.002, 0.001],
    [0.075, 0.073, 0.072, 0.072, 0.074, 0.078, 0.07, 0.056, 0.042, 0.029, 0.018, 0.014, 0.012, 0.011, 0.011, 0.018, 0.026, 0.007, 0.002, 0.001],
    [0.07, 0.068, 0.067, 0.068, 0.07, 0.074, 0.066, 0.053, 0.04, 0.027, 0.017, 0.013, 0.011, 0.01, 0.01, 0.017, 0.025, 0.007, 0.002, 0.001],
    [0.065, 0.063, 0.063, 0.064, 0.067, 0.072, 0.064, 0.051, 0.038, 0.026, 0.016, 0.012, 0.01, 0.01, 0.01, 0.016, 0.024, 0.006, 0.002, 0.001],
    [0.06, 0.058, 0.058, 0.06, 0.064, 0.07, 0.062, 0.049, 0.036, 0.025, 0.015, 0.011, 0.01, 0.009, 0.009, 0.016, 0.024, 0.006, 0.002, 0.001],
    [0.055, 0.054, 0.054, 0.056, 0.06, 0.066, 0.059, 0.047, 0.035, 0.024, 0.015, 0.011, 0.009, 0.009, 0.009, 0.015, 0.023, 0.006, 0.002, 0.001],
    [0.05, 0.05, 0.05, 0.052, 0.056, 0.062, 0.056, 0.045, 0.033, 0.022, 0.014, 0.01, 0.009, 0.008, 0.008, 0.014, 0.022, 0.005, 0.001, 0.001],
    [0.045, 0.045, 0.046, 0.048, 0.052, 0.058, 0.053, 0.042, 0.031, 0.021, 0.013, 0.009, 0.008, 0.008, 0.008, 0.013, 0.021, 0.005, 0.001, 0.001],
    [0.042, 0.042, 0.043, 0.045, 0.049, 0.055, 0.05, 0.04, 0.03, 0.02, 0.012, 0.009, 0.008, 0.007, 0.007, 0.013, 0.02, 0.005, 0.001, 0.0],
    [0.038, 0.038, 0.04, 0.042, 0.046, 0.052, 0.047, 0.038, 0.028, 0.019, 0.011, 0.008, 0.007, 0.007, 0.007, 0.012, 0.019, 0.004, 0.001, 0.0],
    [0.033, 0.034, 0.036, 0.038, 0.042, 0.048, 0.044, 0.035, 0.026, 0.017, 0.01, 0.007, 0.006, 0.006, 0.006, 0.011, 0.018, 0.004, 0.001, 0.0],
    [0.025, 0.026, 0.027, 0.03, 0.032, 0.033, 0.03, 0.025, 0.018, 0.012, 0.007, 0.005, 0.004, 0.004, 0.004, 0.008, 0.013, 0.003, 0.001, 0.0],
    [0.02, 0.021, 0.022, 0.022, 0.023, 0.025, 0.022, 0.018, 0.014, 0.009, 0.005, 0.004, 0.003, 0.003, 0.004, 0.008, 0.012, 0.003, 0.0, 0.0],
    [0.005, 0.012, 0.02, 0.028, 0.033, 0.04, 0.037, 0.03, 0.022, 0.015, 0.009, 0.006, 0.005, 0.005, 0.005, 0.01, 0.016, 0.004, 0.001, 0.0],
]

X_TICKS_LMG = [300, 350, 400, 450, 500, 550, 600, 650, 700, 750]
X_TICKS_NBP = [350, 400, 450, 500, 550, 600, 650, 700, 750]
Y_TICKS_A = [-0.1, 0, 0.1, 0.2, 0.3, 0.4, 0.5, 0.6]
Y_TICKS_B = [-0.2, 0, 0.2, 0.4, 0.6, 0.8]
Y_TICKS_C = [-0.05, 0, 0.05, 0.1, 0.15, 0.2, 0.25, 0.3, 0.35]
Y_TICKS_D = [-0.1, 0, 0.1, 0.2, 0.3, 0.4, 0.5, 0.6]
Y_TICKS_E = [-0.05, 0, 0.05, 0.1, 0.15, 0.2, 0.25, 0.3, 0.35]
Y_TICKS_F = [-0.05, 0, 0.05, 0.1, 0.15, 0.2, 0.25, 0.3, 0.35]

TITLES = ["LMG0402 ap normalized to Fluor chl", "NBP0606 ap normalized to HPLC chl",
          "LMG0402 ad normalized to Fluor chl", "NBP0606 ad normalized to HPLC chl",
          "LMG0402 aph normalized to Fluor chl", "NBP0606 aph normalized to HPLC chl"]
QUANTITIES = ["ap", "ap", "ad", "ad", "aph", "aph"]
LETTERS = ["A", "B", "C", "D", "E", "F"]

# ---------------- styles ----------------
COLORS = {
    "b": "#2f2fff", "g": "#1f9a3a", "r": "#ff2b2b", "c": "#28cccc",
    "m": "#e23ee2", "y": "#c4c41c", "k": "#707070", "n": "#1c1c8c", "o": "#ff7a1a",
}
COLOR_SEQ = [
    "krmgcmbgyybmrcgrbgmcrykbgmcyrk",
    "ykkymbcmcbrgryocygkrmbgcrynmgbrcnco",
    "yrkmcgbyymbgrkncrgmbcnrgycbmcgk",
    "ykkbkmbrgycgrkcbmrgyncrbgmrkcgcr",
    "mbgbkgbnycrmkgrcnybmgrcryo",
    "ymcrcmkrbgybmrbgokngbrcmbgcyrc",
]

W, H = 1137, 1349
# plot-area boxes in pixels: left, right, top, bottom
BOXES = [(91, 525, 51, 379), (667, 1102, 51, 379),
         (103, 525, 507, 835), (667, 1102, 507, 835),
         (103, 526, 961, 1291), (679, 1101, 961, 1291)]
YTITLE_X = [27, 603, 27, 603, 27, 603]
LETTER_POS = [(447, 92), (1038, 87), (450, 552), (1027, 552), (438, 1008), (1025, 1008)]

FONT = "Liberation Sans, Arial, sans-serif"
AXCOL = "#8f8f8f"
TICKCOL = "#404040"

panels = [
    (W_A, AP_LMG, X_TICKS_LMG, Y_TICKS_A),
    (W_B, AP_NBP, X_TICKS_NBP, Y_TICKS_B),
    (W_C, AD_LMG, X_TICKS_LMG, Y_TICKS_C),
    (W_D, AD_NBP, X_TICKS_NBP, Y_TICKS_D),
    (W_E, APH_LMG, X_TICKS_LMG, Y_TICKS_E),
    (W_F, APH_NBP, X_TICKS_NBP, Y_TICKS_F),
]


def fmt(v):
    s = ("%.2f" % v).rstrip("0").rstrip(".")
    return "0" if s in ("-0", "0") else s


fig = go.Figure()
annotations = []
layout = {}
for i, (wl, curves, xt, yt) in enumerate(panels):
    n = i + 1
    xa = "x" if n == 1 else f"x{n}"
    ya = "y" if n == 1 else f"y{n}"
    seq = COLOR_SEQ[i]
    for j, ys in enumerate(curves):
        fig.add_trace(go.Scatter(
            x=wl, y=ys, mode="lines", xaxis=xa, yaxis=ya,
            line=dict(color=COLORS[seq[j % len(seq)]], width=1.1, shape="spline", smoothing=0.7),
            opacity=0.85, showlegend=False, hoverinfo="skip"))
    l, r, t, b = BOXES[i]
    layout[f"xaxis{'' if n == 1 else n}"] = dict(
        domain=[l / W, r / W], anchor=ya, range=[xt[0], xt[-1]],
        tickmode="array", tickvals=xt, ticktext=[str(v) for v in xt],
        ticks="inside", ticklen=5, tickcolor=AXCOL, showline=True, linecolor=AXCOL,
        linewidth=1, mirror="ticks", showgrid=False, zeroline=False,
        tickfont=dict(family=FONT, size=19, color=TICKCOL),
        title=dict(text="<b>Wavelength</b>", font=dict(family=FONT, size=22, color="#111"), standoff=2))
    layout[f"yaxis{'' if n == 1 else n}"] = dict(
        domain=[1 - b / H, 1 - t / H], anchor=xa, range=[yt[0], yt[-1]],
        tickmode="array", tickvals=yt, ticktext=[fmt(v) for v in yt],
        ticks="inside", ticklen=5, tickcolor=AXCOL, showline=True, linecolor=AXCOL,
        linewidth=1, mirror="ticks", showgrid=False, zeroline=False,
        tickfont=dict(family=FONT, size=19, color=TICKCOL))
    cx = (l + r) / 2 / W
    annotations.append(dict(text=f"<b>{TITLES[i]}</b>", x=cx, y=1 - (t - 29) / H,
                            xref="paper", yref="paper", showarrow=False,
                            xanchor="center", yanchor="middle",
                            font=dict(family=FONT, size=26, color="#111")))
    q = QUANTITIES[i]
    annotations.append(dict(text=f"<b>Normalized {q} (m<sup>2</sup> mg<sup>-1</sup> chl-a)</b>",
                            x=YTITLE_X[i] / W, y=1 - (t + b) / 2 / H, xref="paper", yref="paper",
                            showarrow=False, textangle=-90, xanchor="center", yanchor="middle",
                            font=dict(family=FONT, size=23, color="#111")))
    lx, ly = LETTER_POS[i]
    annotations.append(dict(text=LETTERS[i], x=lx / W, y=1 - ly / H, xref="paper", yref="paper",
                            showarrow=False, xanchor="center", yanchor="middle",
                            font=dict(family=FONT, size=32, color="#000")))

fig.update_layout(
    width=W, height=H, autosize=False,
    margin=dict(l=0, r=0, t=0, b=0),
    paper_bgcolor="white", plot_bgcolor="white",
    annotations=annotations, **layout)

fig.write_html("out.html")
